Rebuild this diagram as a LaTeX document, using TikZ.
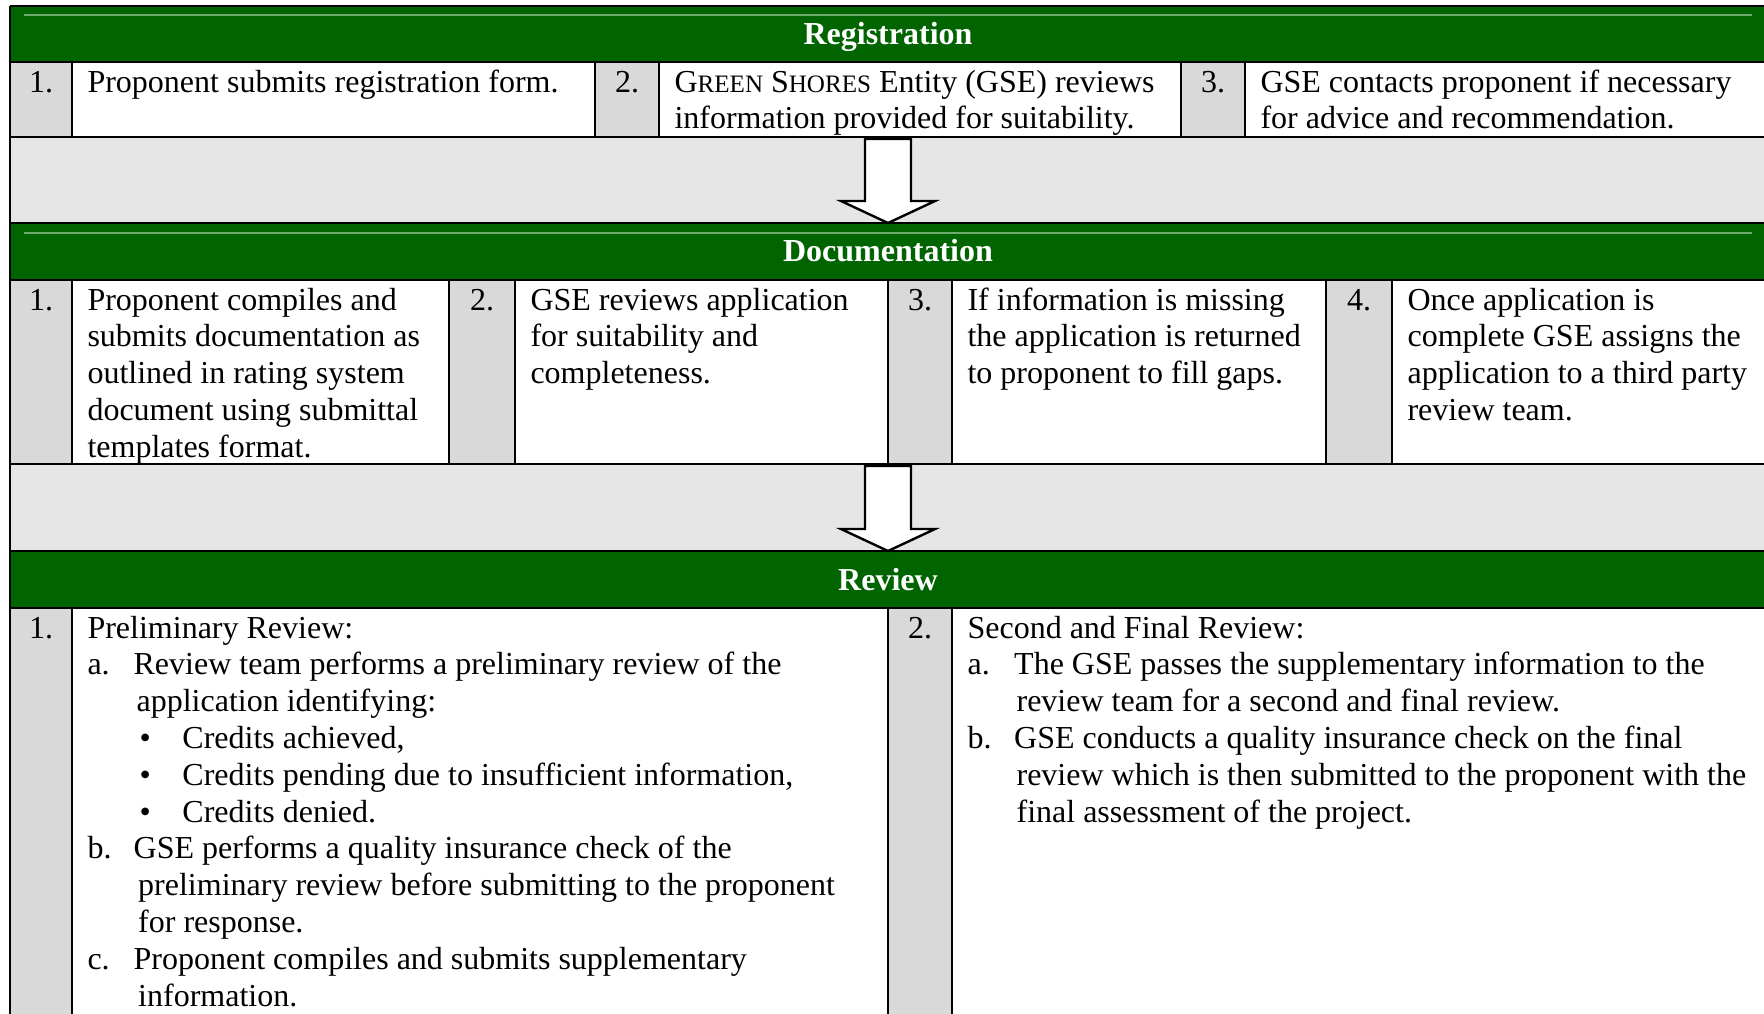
\documentclass[tikz,border=0pt]{standalone}
\usepackage{fontspec}
\setmainfont{Liberation Serif}
\usetikzlibrary{calc}

\definecolor{hdgreen}{RGB}{0,100,0}
\definecolor{hdline}{RGB}{110,170,110}
\definecolor{numgray}{RGB}{217,217,217}
\definecolor{bandgray}{RGB}{230,230,230}
\newcommand{\smc}[1]{{\fontsize{9.4}{13.8}\selectfont #1}}

\begin{document}
\begin{tikzpicture}[x=0.375pt,y=-0.375pt,
  grid/.style={draw=black,line width=0.75pt},
  headtxt/.style={font=\fontsize{12}{13.8}\selectfont\bfseries,text=white,anchor=base,inner sep=0pt},
  numtxt/.style={font=\fontsize{12}{13.8}\selectfont,anchor=base,inner sep=0pt},
  celltxt/.style={font=\fontsize{12}{13.8}\selectfont\frenchspacing,anchor=base west,inner sep=0pt,text width=#1,
    execute at begin node={\spaceskip=3pt plus 1pt minus 1pt\relax\xspaceskip=3pt\relax}},
  celltxt/.default=190pt,
  bigarrow/.style={draw=black,line width=0.9pt,fill=white,line join=miter}]
\useasboundingbox (0,0) rectangle (1764,1013);
\clip (0,0) rectangle (1764,1013);

% bands, headers, rows
\fill[bandgray] (10,137) rectangle (1766,223);
\fill[bandgray] (10,464) rectangle (1766,551);
\fill[hdgreen] (10,6) rectangle (1766,62);
\fill[hdgreen] (10,223) rectangle (1766,280);
\fill[hdgreen] (10,551) rectangle (1766,608);
\fill[white] (10,62) rectangle (1766,137);
\fill[white] (10,280) rectangle (1766,464);
\fill[white] (10,608) rectangle (1766,1030);
\fill[numgray] (10,62) rectangle (72,137) (595,62) rectangle (659,137) (1181,62) rectangle (1245,137);
\fill[numgray] (10,280) rectangle (72,464) (449,280) rectangle (515,464) (888,280) rectangle (952,464) (1326,280) rectangle (1392,464);
\fill[numgray] (10,608) rectangle (72,1030) (888,608) rectangle (952,1030);
\draw[hdline,line width=0.4pt] (24,15) -- (1752,15);
\draw[hdline,line width=0.4pt] (24,233) -- (1752,233);

% table rules
\foreach \y in {6,62,137,223,280,464,551,608}
  \draw[grid] (10,\y) -- (1766,\y);
\draw[grid] (10,6) -- (10,1030);
\draw[grid] (1766,6) -- (1766,1030);
\foreach \x in {72,595,659,1181,1245}
  \draw[grid] (\x,62) -- (\x,137);
\foreach \x in {72,449,515,888,952,1326,1392}
  \draw[grid] (\x,280) -- (\x,464);
\foreach \x in {72,888,952}
  \draw[grid] (\x,608) -- (\x,1030);

% headers
\node[headtxt] (reg) at (888,44) {Registration};
\node[headtxt] (doc) at (888,261) {Documentation};
\node[headtxt] (rev) at (888,590) {Review};

% registration row
\node[numtxt] (reg-n1) at (41,92) {1.};
\node[celltxt] (reg-t1) at (87,92) {Proponent submits registration form.};
\node[numtxt] (reg-n2) at (627,92) {2.};
\node[celltxt] (reg-t2) at (674,92) {G\smc{REEN} S\smc{HORES} Entity (GSE) reviews\\information provided for suitability.};
\node[numtxt] (reg-n3) at (1213,92) {3.};
\node[celltxt] (reg-t3) at (1260,92) {GSE contacts proponent if necessary\\for advice and recommendation.};

% documentation row
\node[numtxt] (doc-n1) at (41,310) {1.};
\node[celltxt=150pt] (doc-t1) at (87,310) {Proponent compiles and\\submits documentation as\\outlined in rating system\\document using submittal\\templates format.};
\node[numtxt] (doc-n2) at (482,310) {2.};
\node[celltxt=150pt] (doc-t2) at (530,310) {GSE reviews application\\for suitability and\\completeness.};
\node[numtxt] (doc-n3) at (920,310) {3.};
\node[celltxt=150pt] (doc-t3) at (967,310) {If information is missing\\the application is returned\\to proponent to fill gaps.};
\node[numtxt] (doc-n4) at (1359,310) {4.};
\node[celltxt=150pt] (doc-t4) at (1407,310) {Once application is\\complete GSE assigns the\\application to a third party\\review team.};

% review row
\node[numtxt] (rev-n1) at (41,638) {1.};
\node[celltxt=295pt] (rev-t1) at (87,638) {Preliminary Review:\\
\makebox[17.3pt][l]{a.}Review team performs a preliminary review of the\\
\hspace*{18.4pt}application identifying:\\
\hspace*{19.5pt}\makebox[16.1pt][l]{\textbullet}Credits achieved,\\
\hspace*{19.5pt}\makebox[16.1pt][l]{\textbullet}Credits pending due to insufficient information,\\
\hspace*{19.5pt}\makebox[16.1pt][l]{\textbullet}Credits denied.\\
\makebox[17.3pt][l]{b.}GSE performs a quality insurance check of the\\
\hspace*{19pt}preliminary review before submitting to the proponent\\
\hspace*{19pt}for response.\\
\makebox[17.3pt][l]{c.}Proponent compiles and submits supplementary\\
\hspace*{19pt}information.};
\node[numtxt] (rev-n2) at (920,638) {2.};
\node[celltxt=300pt] (rev-t2) at (967,638) {Second and Final Review:\\
\makebox[17.5pt][l]{a.}The GSE passes the supplementary information to the\\
\hspace*{18.4pt}review team for a second and final review.\\
\makebox[17.5pt][l]{b.}GSE conducts a quality insurance check on the final\\
\hspace*{18.4pt}review which is then submitted to the proponent with the\\
\hspace*{18.4pt}final assessment of the project.};

% block arrows between the stages
\coordinate (reg-bot) at (888,137);
\coordinate (doc-top) at (888,223);
\coordinate (doc-bot) at (888,464);
\coordinate (rev-top) at (888,551);
\draw[bigarrow] ($(reg-bot)+(-23,2)$) -- ($(doc-top)+(-23,-22)$) -- ($(doc-top)+(-47,-22)$) -- (doc-top)
  -- ($(doc-top)+(47,-22)$) -- ($(doc-top)+(23,-22)$) -- ($(reg-bot)+(23,2)$) -- cycle;
\draw[bigarrow] ($(doc-bot)+(-23,2)$) -- ($(rev-top)+(-23,-22)$) -- ($(rev-top)+(-47,-22)$) -- (rev-top)
  -- ($(rev-top)+(47,-22)$) -- ($(rev-top)+(23,-22)$) -- ($(doc-bot)+(23,2)$) -- cycle;
\end{tikzpicture}
\end{document}
